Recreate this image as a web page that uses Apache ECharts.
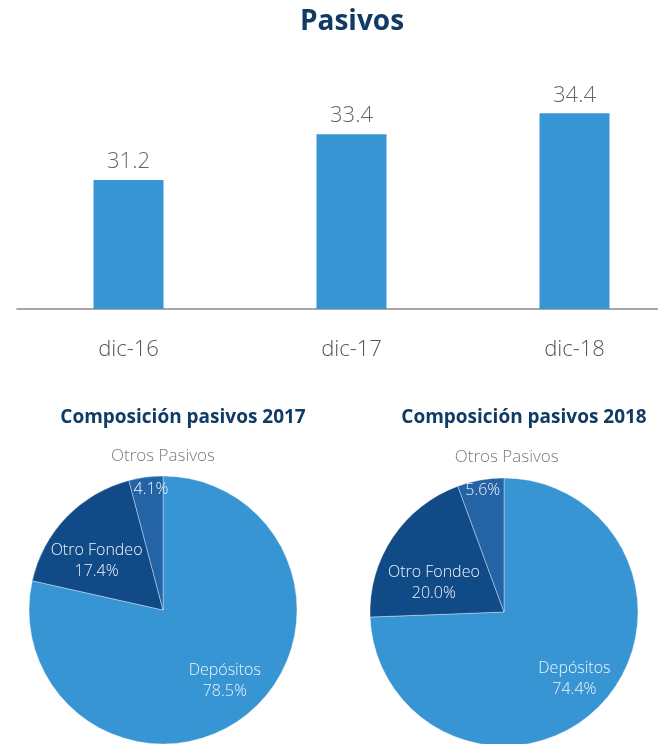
<!DOCTYPE html>
<html><head><meta charset="utf-8">
<script src="https://cdn.jsdelivr.net/npm/echarts@6/dist/echarts.min.js"></script>
<style>html,body{margin:0;padding:0;background:#fff}#c{width:658px;height:744px}</style>
</head><body><div id="c"></div>
<script>
const barCategories = ['dic-16', 'dic-17', 'dic-18'];
const barValues = [31.2, 33.4, 34.4];
const pieNames = ['Depósitos', 'Otro Fondeo', 'Otros Pasivos'];
const pie2017 = [78.5, 17.4, 4.1];
const pie2018 = [74.4, 20.0, 5.6];
const mainTitle = 'Pasivos';
const pieTitles = ['Composición pasivos 2017', 'Composición pasivos 2018'];

const FONT = '"Open Sans", Lato, sans-serif';
const NAVY = '#0f3b66';
const pieColors = ['#3895d3', '#114b87', '#2563a7'];

function pieData(vals, offsets) {
  return vals.map((v, i) => {
    const item = { name: pieNames[i], value: v, itemStyle: { color: pieColors[i] } };
    item.label = { offset: offsets[i] };
    if (i === 2) {
      item.label.formatter = p => '{n|' + p.name + '}\n{v|' + p.value.toFixed(1) + '%}';
    }
    return item;
  });
}

function pieSeries(center, vals, offsets, padR) {
  return {
    type: 'pie',
    center: center,
    radius: 134,
    startAngle: 90,
    clockwise: true,
    avoidLabelOverlap: false,
    silent: true,
    itemStyle: { borderColor: 'rgba(255,255,255,0.45)', borderWidth: 0.8 },
    label: {
      show: true,
      position: 'inside',
      fontFamily: FONT,
      fontWeight: 300,
      fontSize: 16,
      lineHeight: 21,
      color: '#eef3f9',
      formatter: p => p.name + '\n' + p.value.toFixed(1) + '%',
      rich: {
        n: { fontFamily: FONT, fontWeight: 300, fontSize: 17, color: '#7a7a7a', lineHeight: 20 },
        v: { fontFamily: FONT, fontWeight: 300, fontSize: 16, color: '#eef3f9', lineHeight: 46, padding: [0, padR, 0, 0] }
      }
    },
    labelLine: { show: false },
    data: pieData(vals, offsets)
  };
}

const chart = echarts.init(document.getElementById('c'), null, { renderer: 'canvas' });
chart.setOption({
  animation: false,
  backgroundColor: '#fff',
  graphic: [
    { type: 'text', x: 352, y: 22, style: { text: mainTitle, align: 'center', verticalAlign: 'middle', font: 'bold 28px ' + FONT, fill: NAVY } },
    { type: 'text', x: 183, y: 418, style: { text: pieTitles[0], align: 'center', verticalAlign: 'middle', font: 'bold 19px ' + FONT, fill: NAVY } },
    { type: 'text', x: 524, y: 418, style: { text: pieTitles[1], align: 'center', verticalAlign: 'middle', font: 'bold 19px ' + FONT, fill: NAVY } }
  ],
  grid: { left: 17, width: 669, top: 80, height: 229, containLabel: false, outerBoundsMode: 'none' },
  xAxis: {
    type: 'category',
    data: barCategories,
    axisLine: { lineStyle: { color: '#8a8a8a', width: 1.5 } },
    axisTick: { show: false },
    axisLabel: { fontFamily: FONT, fontWeight: 300, fontSize: 22, color: '#555', margin: 30 }
  },
  yAxis: { type: 'value', min: 25, max: 36, show: false, splitLine: { show: false } },
  series: [
    {
      type: 'bar',
      data: barValues,
      barWidth: 70,
      itemStyle: { color: '#3895d3' },
      label: { show: true, position: 'top', distance: 7, fontFamily: FONT, fontWeight: 300, fontSize: 22, color: '#666', formatter: p => p.value.toFixed(1) }
    },
    pieSeries([163, 610], pie2017, [[18, 16], [-16, -1], [9, -61]], 24),
    pieSeries([504, 612], pie2018, [[20, 18], [-12, 10], [15, -63]], 48)
  ]
});
</script></body></html>
